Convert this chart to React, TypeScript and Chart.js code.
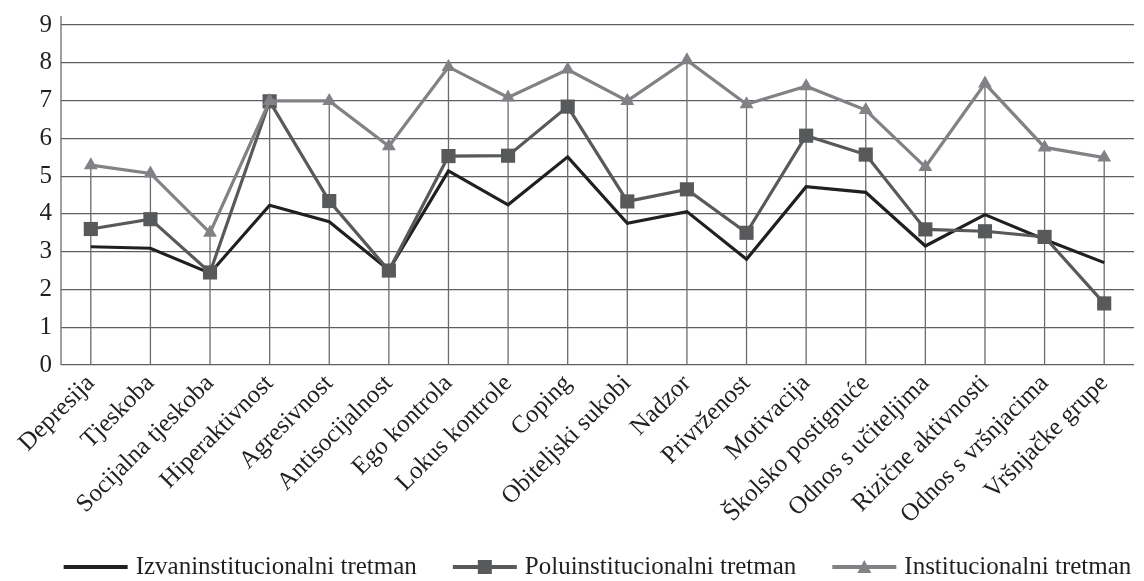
import React, { useEffect, useRef } from "react";
import { Chart, registerables } from "chart.js";

Chart.register(...registerables);

const categories = [
  "Depresija",
  "Tjeskoba",
  "Socijalna tjeskoba",
  "Hiperaktivnost",
  "Agresivnost",
  "Antisocijalnost",
  "Ego kontrola",
  "Lokus kontrole",
  "Coping",
  "Obiteljski sukobi",
  "Nadzor",
  "Privrženost",
  "Motivacija",
  "Školsko postignuće",
  "Odnos s učiteljima",
  "Rizične aktivnosti",
  "Odnos s vršnjacima",
  "Vršnjačke grupe",
];

const izvaninstitucionalni = [3.13, 3.09, 2.43, 4.23, 3.79, 2.51, 5.14, 4.24, 5.51, 3.75, 4.06, 2.8, 4.72, 4.57, 3.15, 3.98, 3.32, 2.71];
const poluinstitucionalni = [3.6, 3.86, 2.45, 6.98, 4.34, 2.5, 5.53, 5.54, 6.84, 4.33, 4.65, 3.5, 6.07, 5.57, 3.59, 3.54, 3.39, 1.63];
const institucionalni = [5.29, 5.07, 3.5, 6.99, 6.99, 5.79, 7.89, 7.08, 7.82, 6.99, 8.07, 6.9, 7.38, 6.75, 5.24, 7.45, 5.76, 5.49];

const seriesNames = ["Izvaninstitucionalni tretman", "Poluinstitucionalni tretman", "Institucionalni tretman"];
const yTicks = [0, 1, 2, 3, 4, 5, 6, 7, 8, 9];

const FONT = "'Liberation Serif', 'Times New Roman', serif";
const TEXT = "#231f20";
const C1 = "#231f20";
const C2 = "#58595b";
const C3 = "#808285";

const dropLines = {
  id: "dropLines",
  beforeDatasetsDraw(chart: any) {
    const { ctx, scales, chartArea } = chart;
    const x = scales.x;
    const y = scales.y;
    ctx.save();
    ctx.strokeStyle = "#6a6b6e";
    ctx.lineWidth = 1.3;
    // axis line extension above plot
    ctx.beginPath();
    ctx.moveTo(chartArea.left, chartArea.top - 9);
    ctx.lineTo(chartArea.left, chartArea.bottom);
    ctx.stroke();
    categories.forEach((_, i) => {
      const maxV = Math.max(izvaninstitucionalni[i], poluinstitucionalni[i], institucionalni[i]);
      const px = x.getPixelForValue(i);
      ctx.beginPath();
      ctx.moveTo(px, y.getPixelForValue(maxV));
      ctx.lineTo(px, y.getPixelForValue(0));
      ctx.stroke();
    });
    ctx.restore();
  },
};

const customLegend = {
  id: "customLegend",
  afterDraw(chart: any) {
    const { ctx, chartArea } = chart;
    const colors = [C1, C2, C3];
    const styles = ["none", "rect", "triangle"];
    ctx.save();
    ctx.font = `25px ${FONT}`;
    const lineLen = 64;
    const textGap = 8;
    const itemGap = 36;
    const widths = seriesNames.map((n) => lineLen + textGap + ctx.measureText(n).width);
    const total = widths.reduce((a, b) => a + b, 0) + itemGap * (widths.length - 1);
    let xPos = (chartArea.left + chartArea.right) / 2 - total / 2;
    const yPos = chart.height - 14;
    seriesNames.forEach((n, i) => {
      ctx.strokeStyle = colors[i];
      ctx.lineWidth = 4;
      ctx.beginPath();
      ctx.moveTo(xPos, yPos);
      ctx.lineTo(xPos + lineLen, yPos);
      ctx.stroke();
      const cx = xPos + lineLen / 2;
      ctx.fillStyle = colors[i];
      if (styles[i] === "rect") {
        ctx.fillRect(cx - 7, yPos - 7, 14, 14);
      } else if (styles[i] === "triangle") {
        ctx.beginPath();
        ctx.moveTo(cx, yPos - 7);
        ctx.lineTo(cx + 7, yPos + 6);
        ctx.lineTo(cx - 7, yPos + 6);
        ctx.closePath();
        ctx.fill();
      }
      ctx.fillStyle = TEXT;
      ctx.textBaseline = "middle";
      ctx.textAlign = "left";
      ctx.fillText(n, xPos + lineLen + textGap, yPos);
      xPos += widths[i] + itemGap;
    });
    ctx.restore();
  },
};

export default function App() {
  const canvasRef = useRef<HTMLCanvasElement | null>(null);

  useEffect(() => {
    if (!canvasRef.current) return;
    const chart = new Chart(canvasRef.current, {
      type: "line",
      data: {
        labels: categories,
        datasets: [
          {
            label: seriesNames[0],
            data: izvaninstitucionalni,
            borderColor: C1,
            backgroundColor: C1,
            borderWidth: 3.2,
            pointRadius: 0,
            pointHoverRadius: 0,
            tension: 0,
            order: 3,
          },
          {
            label: seriesNames[1],
            data: poluinstitucionalni,
            borderColor: C2,
            backgroundColor: C2,
            borderWidth: 3.2,
            pointStyle: "rect",
            pointRadius: 10,
            pointBorderWidth: 0,
            pointBackgroundColor: C2,
            tension: 0,
            order: 2,
          },
          {
            label: seriesNames[2],
            data: institucionalni,
            borderColor: C3,
            backgroundColor: C3,
            borderWidth: 3.2,
            pointStyle: "triangle",
            pointRadius: 8,
            pointBorderWidth: 0,
            pointBackgroundColor: C3,
            tension: 0,
            order: 1,
          },
        ],
      },
      options: {
        animation: false,
        responsive: true,
        maintainAspectRatio: false,
        layout: { padding: { top: 25, bottom: 46, left: 0, right: 0 } },
        plugins: {
          legend: { display: false },
          tooltip: { enabled: false },
          title: { display: false },
        },
        scales: {
          x: {
            type: "category",
            offset: true,
            grid: { display: false, drawTicks: false },
            border: { display: false },
            ticks: {
              autoSkip: false,
              minRotation: 45,
              maxRotation: 45,
              padding: 4,
              color: TEXT,
              font: { family: FONT, size: 25 },
            },
            afterFit: (scale: any) => {
              scale.height = 170;
            },
          },
          y: {
            min: 0,
            max: 9,
            afterBuildTicks: (scale: any) => {
              scale.ticks = yTicks.map((v) => ({ value: v }));
            },
            grid: { color: "#5e5f62", lineWidth: 1.2, drawTicks: false },
            border: { display: false },
            ticks: {
              padding: 9,
              color: TEXT,
              font: { family: FONT, size: 25 },
            },
            afterFit: (scale: any) => {
              scale.width = 61;
            },
          },
        },
      },
      plugins: [dropLines, customLegend],
    });
    return () => chart.destroy();
  }, []);

  return (
    <div style={{ position: "fixed", left: 0, top: 0, width: 1144, height: 581, background: "#fff" }}>
      <canvas ref={canvasRef} />
    </div>
  );
}
